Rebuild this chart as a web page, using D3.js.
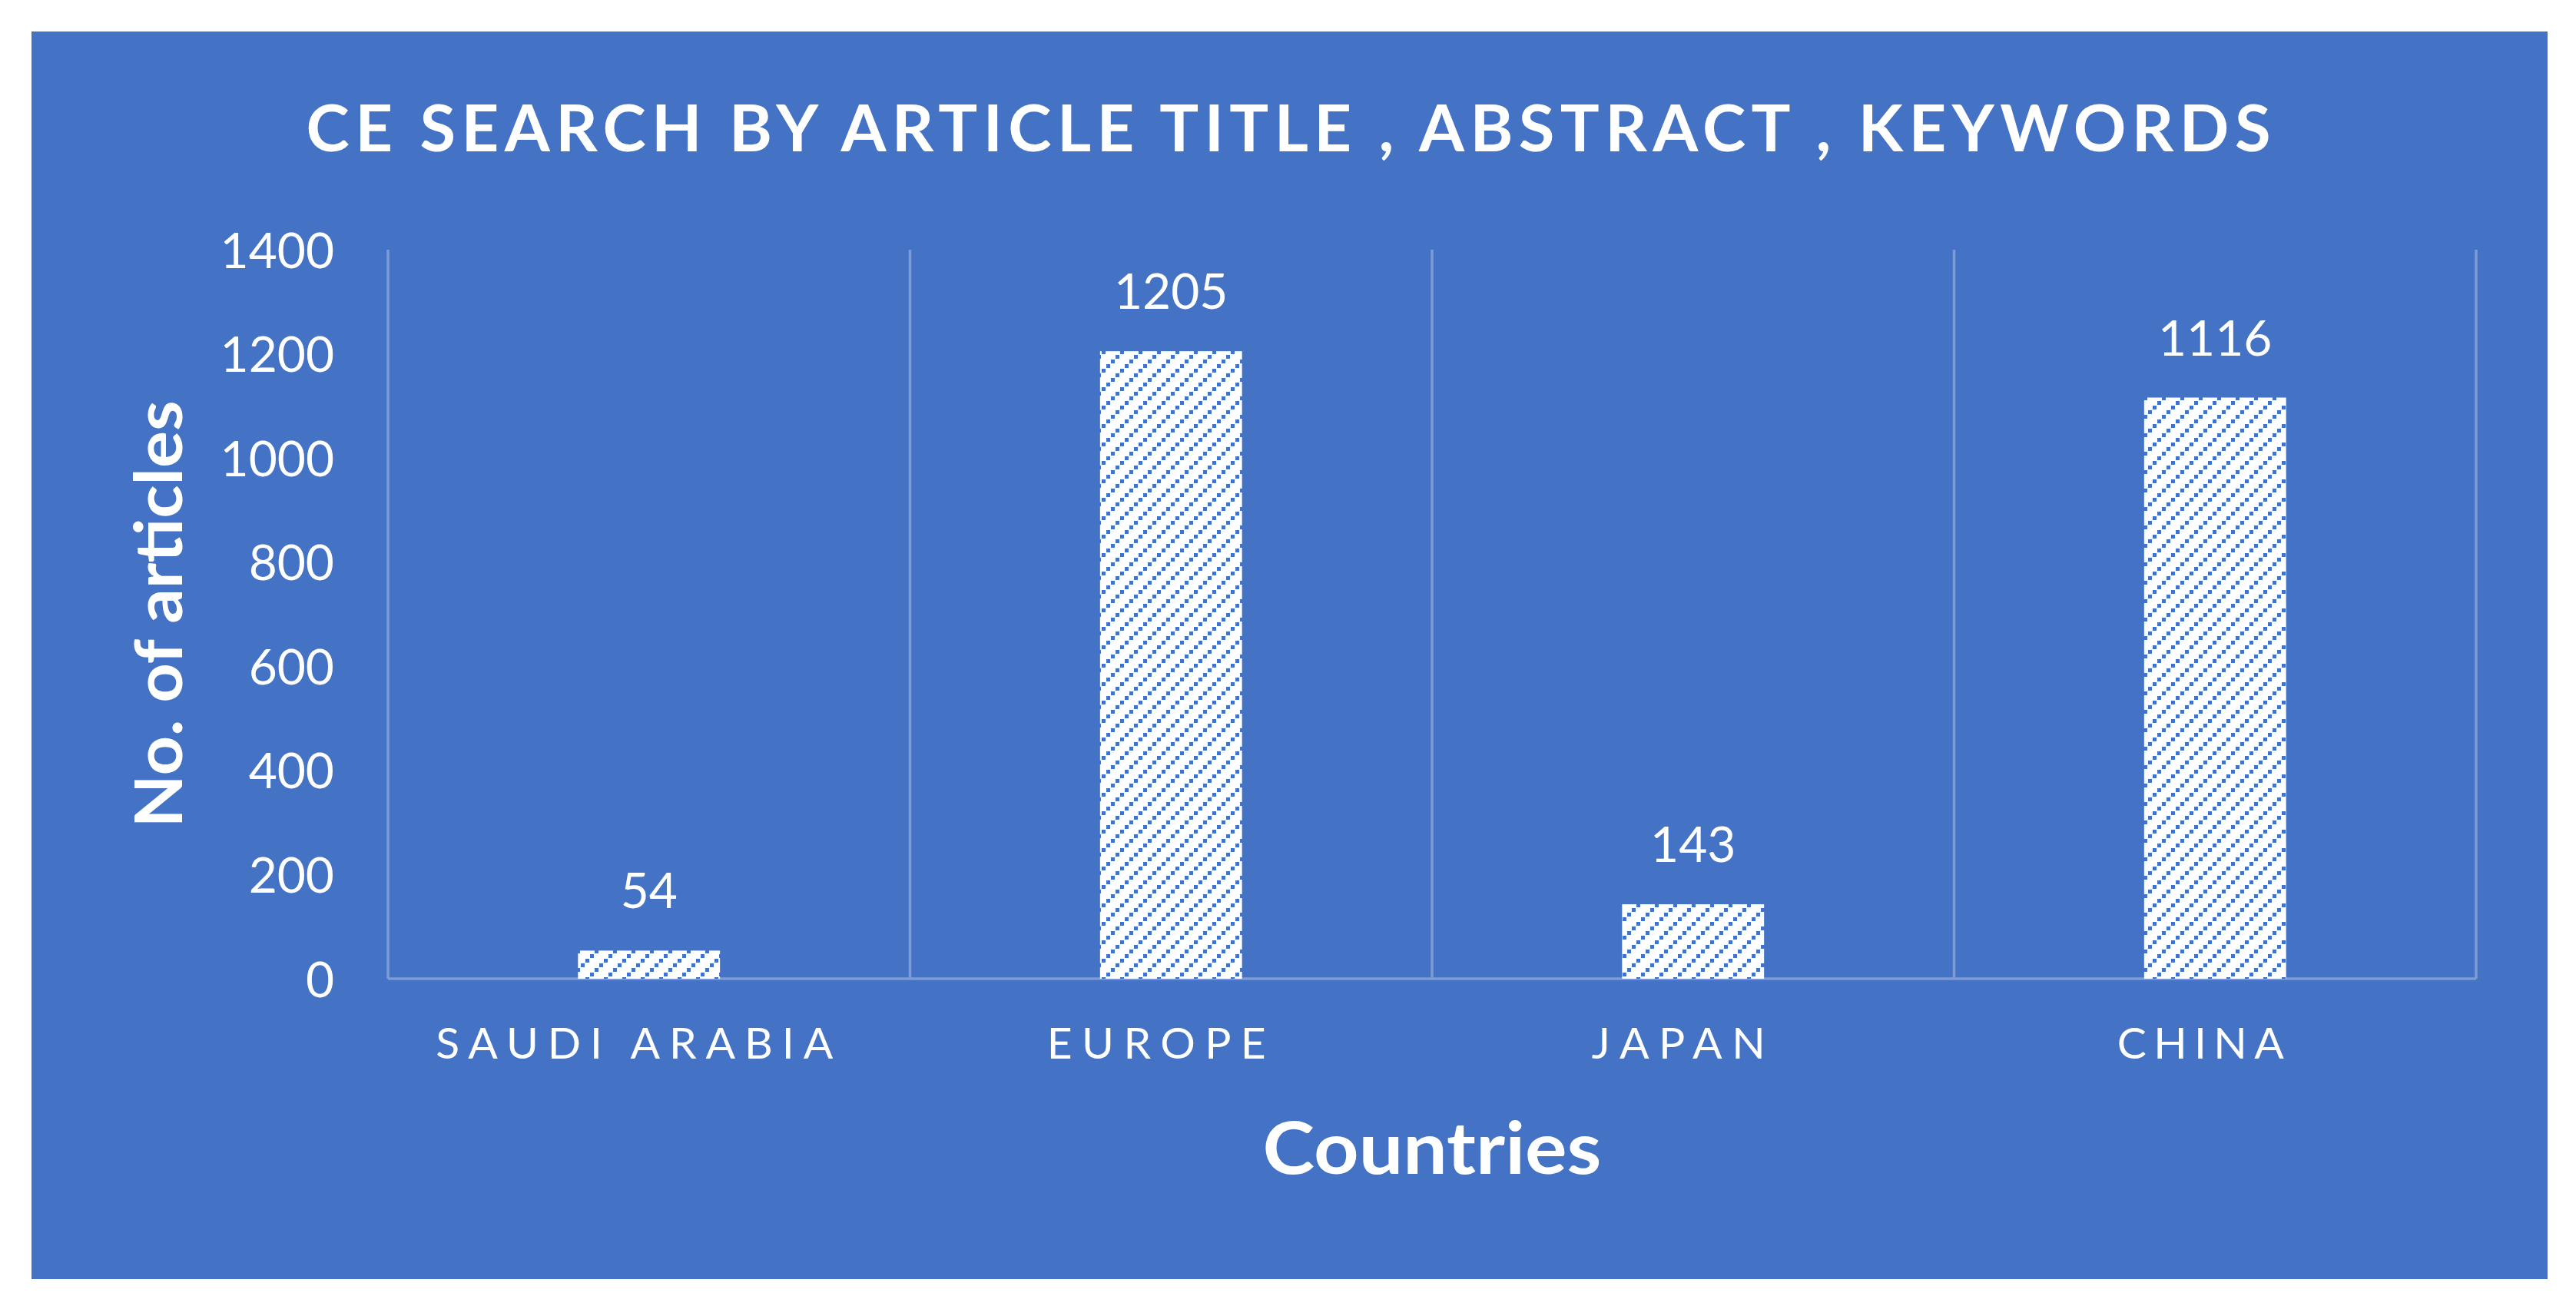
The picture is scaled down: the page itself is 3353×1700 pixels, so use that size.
<!DOCTYPE html>
<html>
<head>
<meta charset="utf-8">
<script src="https://cdn.jsdelivr.net/npm/d3@7"></script>
<style>
  body { margin: 0; background: #fff; }
  text { font-family: Lato, "Open Sans", sans-serif; fill: #fff; }
</style>
</head>
<body>
<svg width="3353" height="1700"></svg>
<script>
var width = 3353, height = 1700

var countries = ["SAUDI ARABIA", "EUROPE", "JAPAN", "CHINA"]
var articles = [54, 1205, 143, 1116]
var yTicks = [0, 200, 400, 600, 800, 1000, 1200, 1400]
// widths of the letter-spaced labels
var labelWidths = [517, 285, 226, 217]

var title = "CE SEARCH BY ARTICLE TITLE , ABSTRACT , KEYWORDS"
var xTitle = "Countries"
var yTitle = "No. of articles"

var blue = "#4472C4"
var gridColor = "#7C9CD6"

var plot = { left: 505, right: 3223, top: 325, bottom: 1274 }

var svg = d3.select("svg")

// hatch pattern: dotted upward diagonals on white
var defs = svg.append("defs")
var pat = defs.append("pattern")
  .attr("id", "hatch")
  .attr("patternUnits", "userSpaceOnUse")
  .attr("width", 24)
  .attr("height", 24)
pat.append("rect").attr("width", 24).attr("height", 24).attr("fill", "#fff")
d3.range(4).forEach(function(k) {
  pat.append("rect")
    .attr("x", k * 6)
    .attr("y", 18 - k * 6)
    .attr("width", 5)
    .attr("height", 5)
    .attr("fill", blue)
})

// panel
svg.append("rect")
  .attr("x", 41).attr("y", 41)
  .attr("width", 3316 - 41).attr("height", 1665 - 41)
  .attr("fill", blue)

var x = d3.scaleBand()
  .domain(countries)
  .range([plot.left, plot.right])
  .paddingInner(0.728)
  .paddingOuter(0.364)

var y = d3.scaleLinear()
  .domain([0, 1400])
  .range([plot.bottom, plot.top])

var step = x.step()

// vertical gridlines between categories
svg.append("g").selectAll("line")
  .data(d3.range(countries.length + 1))
  .enter().append("line")
  .attr("x1", function(i) { return plot.left + i * step })
  .attr("x2", function(i) { return plot.left + i * step })
  .attr("y1", y(1400))
  .attr("y2", y(0))
  .attr("stroke", gridColor)
  .attr("stroke-width", 3.5)

// baseline
svg.append("line")
  .attr("x1", plot.left).attr("x2", plot.right)
  .attr("y1", y(0)).attr("y2", y(0))
  .attr("stroke", gridColor)
  .attr("stroke-width", 3.5)

// y axis labels
var yAxis = d3.axisLeft(y)
  .tickValues(yTicks)
  .tickFormat(d3.format("d"))
  .tickSize(0)
  .tickPadding(70)
var gy = svg.append("g")
  .attr("transform", "translate(" + plot.left + ",0)")
  .call(yAxis)
gy.select(".domain").remove()
gy.selectAll("text")
  .attr("fill", "#fff")
  .style("font-size", "64px")
  .attr("dy", "0.36em")

// bars
svg.append("g").selectAll("rect")
  .data(articles)
  .enter().append("rect")
  .attr("x", function(d, i) { return x(countries[i]) })
  .attr("width", x.bandwidth())
  .attr("y", function(d) { return y(d) })
  .attr("height", function(d) { return y(0) - y(d) })
  .attr("fill", "url(#hatch)")

// value labels
svg.append("g").selectAll("text")
  .data(articles)
  .enter().append("text")
  .attr("x", function(d, i) { return x(countries[i]) + x.bandwidth() / 2 })
  .attr("y", function(d) { return y(d) - 55 })
  .attr("text-anchor", "middle")
  .style("font-size", "64px")
  .text(function(d) { return d })

// category labels
svg.append("g").selectAll("text")
  .data(countries)
  .enter().append("text")
  .attr("x", function(d) { return x(d) + x.bandwidth() / 2 - 19 })
  .attr("y", 1378)
  .attr("text-anchor", "middle")
  .attr("textLength", function(d, i) { return labelWidths[i] })
  .attr("lengthAdjust", "spacing")
  .style("font-size", "57px")
  .text(function(d) { return d })

// chart title
svg.append("text")
  .attr("x", 1677)
  .attr("y", 197)
  .attr("text-anchor", "middle")
  .attr("textLength", 2557)
  .attr("lengthAdjust", "spacing")
  .style("font-size", "85px")
  .style("font-weight", "bold")
  .text(title)

// axis titles
svg.append("text")
  .attr("x", (plot.left + plot.right) / 2)
  .attr("y", 1528)
  .attr("text-anchor", "middle")
  .attr("textLength", 441)
  .attr("lengthAdjust", "spacingAndGlyphs")
  .style("font-size", "94px")
  .style("font-weight", "bold")
  .text(xTitle)

svg.append("text")
  .attr("transform", "translate(237," + (plot.top + plot.bottom) / 2 + ") rotate(-90)")
  .attr("text-anchor", "middle")
  .attr("textLength", 556)
  .attr("lengthAdjust", "spacingAndGlyphs")
  .style("font-size", "86px")
  .style("font-weight", "bold")
  .text(yTitle)
</script>
</body>
</html>
